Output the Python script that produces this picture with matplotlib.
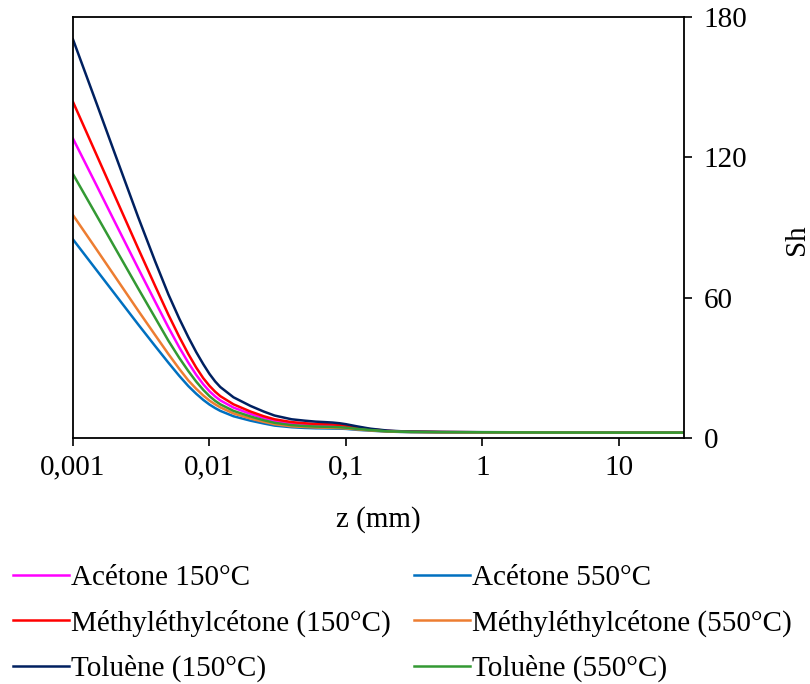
import matplotlib
matplotlib.use("Agg")
import matplotlib.pyplot as plt
from matplotlib.ticker import FixedLocator, FixedFormatter, NullLocator

plt.rcParams['font.family'] = ['Liberation Serif', 'DejaVu Serif']

# z (mm) positions where values were read
z = [0.001, 0.0015, 0.002, 0.003, 0.004, 0.005, 0.006, 0.007, 0.008, 0.009,
     0.01, 0.011, 0.012, 0.015, 0.02, 0.025, 0.03, 0.04, 0.05, 0.06, 0.07,
     0.08, 0.09, 0.1, 0.12, 0.15, 0.2, 0.25, 0.3, 0.5, 1, 3, 10, 30]

sh_toluene_150 = [170.4, 142.5, 122.5, 94.5, 75.5, 61.4, 51.1, 43.1, 36.7, 31.6,
                  27.4, 24.2, 21.8, 17.4, 13.7, 11.3, 9.6, 8.0, 7.4, 7.0, 6.8,
                  6.6, 6.3, 5.9, 5.0, 4.0, 3.2, 2.9, 2.75, 2.6, 2.5, 2.4, 2.3, 2.3]
sh_mek_150 = [143.7, 120.6, 104.2, 81.1, 65.0, 52.7, 43.3, 35.9, 30.1, 25.6,
              22.3, 19.8, 17.9, 14.4, 11.3, 9.3, 8.0, 6.8, 6.3, 6.0, 5.9,
              5.8, 5.6, 5.3, 4.6, 3.8, 3.05, 2.8, 2.7, 2.55, 2.45, 2.35, 2.3, 2.3]
sh_acetone_150 = [128, 107.6, 93.0, 72.6, 58.3, 47.3, 38.8, 32.2, 27.0, 23.0,
                  20.0, 17.8, 16.1, 13.0, 10.3, 8.5, 7.3, 6.2, 5.8, 5.5, 5.4,
                  5.3, 5.1, 4.9, 4.3, 3.6, 2.95, 2.75, 2.65, 2.5, 2.45, 2.35, 2.3, 2.3]
sh_toluene_550 = [112.8, 94.8, 82.0, 64.0, 51.4, 41.6, 34.3, 28.6, 24.1, 20.6,
                  17.9, 15.9, 14.4, 11.6, 9.2, 7.6, 6.5, 5.5, 5.1, 4.9, 4.8,
                  4.7, 4.6, 4.4, 3.9, 3.4, 2.85, 2.7, 2.6, 2.5, 2.45, 2.35, 2.3, 2.3]
sh_mek_550 = [95.3, 80.3, 69.6, 54.5, 44.0, 35.9, 29.6, 24.6, 21.0, 18.2,
              16.0, 14.4, 13.1, 10.5, 8.3, 6.9, 5.9, 5.0, 4.7, 4.5, 4.4,
              4.35, 4.25, 4.1, 3.7, 3.25, 2.8, 2.65, 2.55, 2.45, 2.4, 2.35, 2.3, 2.3]
sh_acetone_550 = [84.9, 71.5, 62.0, 48.6, 39.3, 32.2, 26.6, 22.2, 18.9, 16.3,
                  14.3, 12.8, 11.6, 9.3, 7.4, 6.2, 5.3, 4.6, 4.3, 4.15, 4.1,
                  4.05, 4.0, 3.9, 3.5, 3.15, 2.75, 2.6, 2.5, 2.45, 2.4, 2.35, 2.3, 2.3]

labels = ["Acétone 150°C", "Méthyléthylcétone (150°C)", "Toluène (150°C)",
          "Acétone 550°C", "Méthyléthylcétone (550°C)", "Toluène (550°C)"]
colors = ["#FF00FF", "#FF0000", "#002060", "#0070C0", "#ED7D31", "#339933"]

x_ticks = [0.001, 0.01, 0.1, 1, 10]
x_ticklabels = ["0,001", "0,01", "0,1", "1", "10"]
y_ticks = [0, 60, 120, 180]

fig = plt.figure(figsize=(8.1, 6.84), dpi=100)
ax = fig.add_axes([73/810, 1-438/684, (684-73)/810, (438-17)/684])

series = [sh_acetone_150, sh_mek_150, sh_toluene_150,
          sh_acetone_550, sh_mek_550, sh_toluene_550]
handles = []
for s, c, l in zip(series, colors, labels):
    h, = ax.plot(z, s, color=c, lw=1.8, label=l, solid_joinstyle='round')
    handles.append(h)

ax.set_xscale('log')
ax.set_xlim(0.001, 30)
ax.set_ylim(0, 180)
ax.xaxis.set_major_locator(FixedLocator(x_ticks))
ax.xaxis.set_major_formatter(FixedFormatter(x_ticklabels))
ax.xaxis.set_minor_locator(NullLocator())
ax.yaxis.tick_right()
ax.yaxis.set_label_position('right')
ax.set_yticks(y_ticks)
ax.tick_params(axis='both', direction='out', length=6, width=1.2,
               labelsize=21, colors='black')
ax.tick_params(axis='y', pad=8)
ax.tick_params(axis='x', pad=6)
for sp in ax.spines.values():
    sp.set_linewidth(1.3)
    sp.set_color('black')

ax.set_xlabel("z (mm)", fontsize=21)
ax.xaxis.set_label_coords((378-73)/611, -(506-438)/421)
ax.set_ylabel("Sh", fontsize=21)
ax.yaxis.set_label_coords((784-73)/611, (438-240)/421)

fig.legend(handles=handles, labels=labels, ncol=2, frameon=False,
           loc='upper left', bbox_to_anchor=(7/810, 1-559/684),
           fontsize=21, handlelength=1.92, handletextpad=0.07,
           columnspacing=0.8, labelspacing=0.62, borderpad=0.2,
           borderaxespad=0)

fig.savefig("out.png", dpi=100)
